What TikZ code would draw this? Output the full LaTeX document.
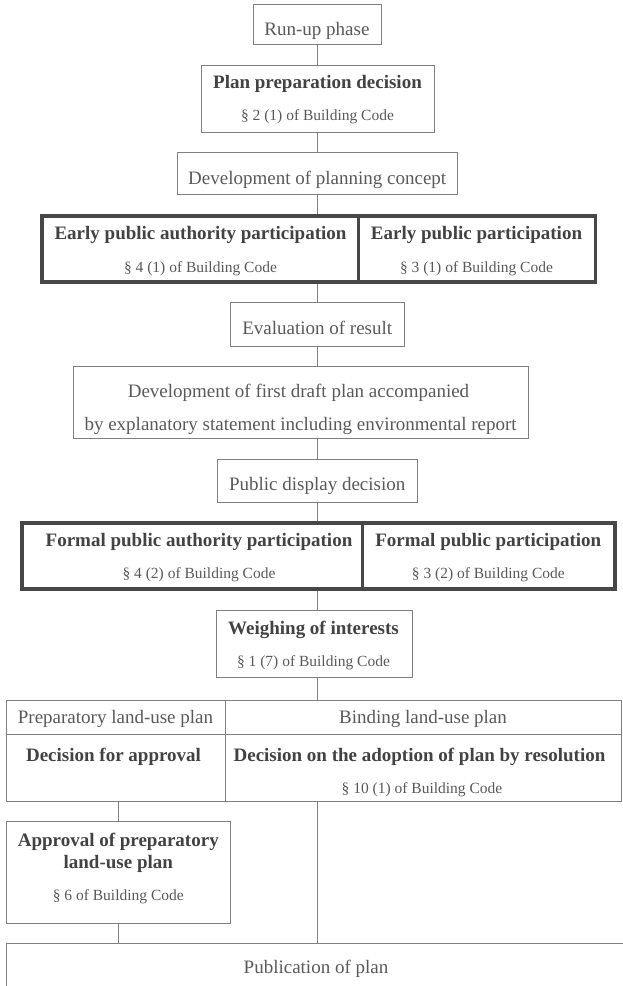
\documentclass[tikz,border=0pt]{standalone}
\usepackage{fontspec}
\setmainfont{Liberation Serif}
\usepackage{xcolor}
\usepackage{tikz}

\definecolor{linegray}{HTML}{808080}
\definecolor{heavygray}{HTML}{474747}
\definecolor{textgray}{HTML}{595959}
\definecolor{boldgray}{HTML}{424242}

\newcommand{\mainsize}{\fontsize{19}{22}\selectfont}
\newcommand{\subsize}{\fontsize{15.5}{18}\selectfont}

\begin{document}
\begin{tikzpicture}[x=1pt, y=-1pt,
    box/.style={rectangle, draw=linegray, line width=0.9pt, inner sep=0pt},
    heavy/.style={rectangle, draw=heavygray, line width=3.6pt, inner sep=0pt},
    txt/.style={anchor=base, inner sep=0pt, text=textgray, font=\mainsize},
    btxt/.style={anchor=base, inner sep=0pt, text=boldgray, font=\mainsize\bfseries},
    stxt/.style={anchor=base, inner sep=0pt, text=textgray, font=\subsize},
    link/.style={draw=linegray, line width=0.9pt}]
            \useasboundingbox (0,0) rectangle (623,986);
            \coordinate (spine) at (317,0);

            % boxes
            \node[box, minimum width=128pt, minimum height=39.7pt] (run) at (317,24.7) {};
            \node[box, minimum width=233pt, minimum height=66.7pt] (prep) at (317.5,98.7) {};
            \node[box, minimum width=280.5pt, minimum height=42.2pt] (concept) at (317.2,173.6) {};
            \node[heavy, minimum width=316.3pt, minimum height=66pt] (earlyauth) at (200.15,249) {};
            \node[heavy, minimum width=237pt, minimum height=66pt] (earlypub) at (476.8,249) {};
            \node[box, minimum width=173.7pt, minimum height=44pt] (eval) at (317.2,324.5) {};
            \node[box, minimum width=455.2pt, minimum height=72.1pt] (draft) at (300.6,402.25) {};
            \node[box, minimum width=200.3pt, minimum height=43.1pt] (display) at (317.2,480.75) {};
            \node[heavy, minimum width=340.3pt, minimum height=66pt] (formalauth) at (192.15,556) {};
            \node[heavy, minimum width=252.4pt, minimum height=66pt] (formalpub) at (488.5,556) {};
            \node[box, minimum width=196.3pt, minimum height=66.9pt] (weigh) at (314.2,644.25) {};
            \node[box, minimum width=219.7pt, minimum height=33.6pt] (prephead) at (115.85,717.5) {};
            \node[box, minimum width=395.6pt, minimum height=33.6pt] (bindhead) at (423.5,717.5) {};
            \node[box, minimum width=219.7pt, minimum height=66.7pt] (approvdec) at (115.85,767.65) {};
            \node[box, minimum width=395.6pt, minimum height=66.7pt] (adoptdec) at (423.5,767.65) {};
            \node[box, minimum width=224.7pt, minimum height=102.3pt] (approval) at (118.35,872.15) {};
            \node[box, minimum width=640pt, minimum height=60pt] (pub) at (326,973.3) {};

            % texts
            \node[txt] (run-t) at (317,35) {Run-up phase};
            \node[btxt] (prep-t) at (317.5,88) {Plan preparation decision};
            \node[stxt] (prep-s) at (317.5,120.7) {§ 2 (1) of Building Code};
            \node[txt] (concept-t) at (317.2,184.3) {Development of planning concept};
            \node[btxt] (earlyauth-t) at (200.5,239.3) {Early public authority participation};
            \node[stxt] (earlyauth-s) at (200.5,272.7) {§ 4 (1) of Building Code};
            \node[btxt] (earlypub-t) at (476.5,239.3) {Early public participation};
            \node[stxt] (earlypub-s) at (476.5,272.7) {§ 3 (1) of Building Code};
            \node[txt] (eval-t) at (317.2,334.3) {Evaluation of result};
            \node[txt] (draft-t) at (298.5,397.5) {Development of first draft plan accompanied};
            \node[txt] (draft-s) at (300.6,430.5) {by explanatory statement including environmental report};
            \node[txt] (display-t) at (317.2,490) {Public display decision};
            \node[btxt] (formalauth-t) at (199,546) {Formal public authority participation};
            \node[stxt] (formalauth-s) at (199,578.3) {§ 4 (2) of Building Code};
            \node[btxt] (formalpub-t) at (488.3,546) {Formal public participation};
            \node[stxt] (formalpub-s) at (488.3,578.3) {§ 3 (2) of Building Code};
            \node[btxt] (weigh-t) at (313.5,634) {Weighing of interests};
            \node[stxt] (weigh-s) at (313.5,666.7) {§ 1 (7) of Building Code};
            \node[txt] (prephead-t) at (115.5,723.3) {Preparatory land-use plan};
            \node[txt] (bindhead-t) at (423,723.3) {Binding land-use plan};
            \node[btxt] (approvdec-t) at (113.5,761.7) {Decision for approval};
            \node[btxt] (adoptdec-t) at (419.5,761.7) {Decision on the adoption of plan by resolution};
            \node[stxt] (adoptdec-s) at (422,793.3) {§ 10 (1) of Building Code};
            \node[btxt] (approval-t) at (118.3,846) {Approval of preparatory};
            \node[btxt] (approval-u) at (118.3,868.3) {land-use plan};
            \node[stxt] (approval-s) at (118.3,900.7) {§ 6 of Building Code};
            \node[txt] (pub-t) at (316,973.3) {Publication of plan};

            % connectors
            \draw[link] (spine |- run.south) -- (spine |- prep.north);
            \draw[link] (spine |- prep.south) -- (spine |- concept.north);
            \draw[link] (spine |- concept.south) -- (spine |- earlyauth.north);
            \draw[link] (spine |- earlyauth.south) -- (spine |- eval.north);
            \draw[link] (spine |- eval.south) -- (spine |- draft.north);
            \draw[link] (spine |- draft.south) -- (spine |- display.north);
            \draw[link] (spine |- display.south) -- (spine |- formalauth.north);
            \draw[link] (spine |- formalauth.south) -- (spine |- weigh.north);
            \draw[link] (spine |- weigh.south) -- (spine |- bindhead.north);
            \draw[link] (approval.north) -- (approval.north |- approvdec.south);
            \draw[link] (approval.south) -- (approval.south |- pub.north);
            \draw[link] (spine |- adoptdec.south) -- (spine |- pub.north);
\end{tikzpicture}
\end{document}
